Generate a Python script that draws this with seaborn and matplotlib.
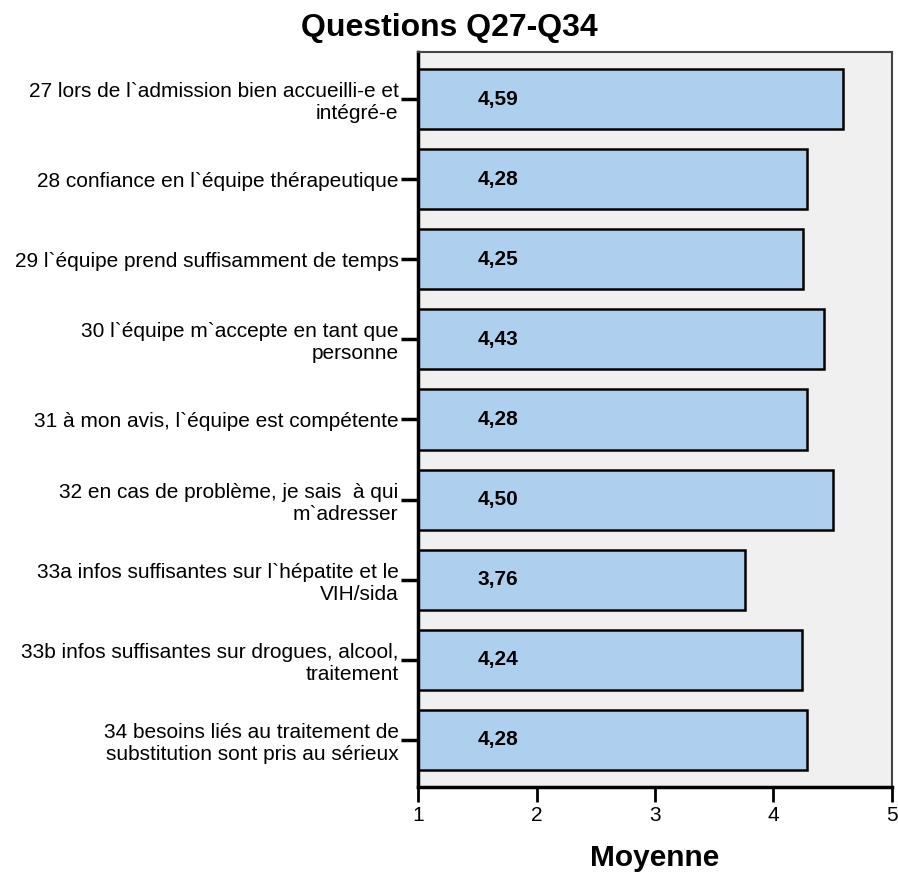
import pandas as pd
import numpy as np
import seaborn as sns
import matplotlib.pyplot as plt

questions = [
    "27 lors de l`admission bien accueilli-e et\nintégré-e",
    "28 confiance en l`équipe thérapeutique",
    "29 l`équipe prend suffisamment de temps",
    "30 l`équipe m`accepte en tant que\npersonne",
    "31 à mon avis, l`équipe est compétente",
    "32 en cas de problème, je sais  à qui\nm`adresser",
    "33a infos suffisantes sur l`hépatite et le\nVIH/sida",
    "33b infos suffisantes sur drogues, alcool,\ntraitement",
    "34 besoins liés au traitement de\nsubstitution sont pris au sérieux",
]
moyennes = [4.59, 4.28, 4.25, 4.43, 4.28, 4.50, 3.76, 4.24, 4.28]
x_ticks = [1, 2, 3, 4, 5]

df = pd.DataFrame({'Question': questions, 'Moyenne': moyennes})

sns.set_style('white')
plt.rcParams['font.family'] = ['Liberation Sans', 'DejaVu Sans']
plt.rcParams['text.color'] = 'black'
plt.rcParams['axes.labelcolor'] = 'black'
plt.rcParams['xtick.color'] = 'black'
plt.rcParams['ytick.color'] = 'black'

fig = plt.figure(figsize=(8.98, 8.72), dpi=100)
ax = fig.add_axes([418 / 898, 1 - 787 / 872, 474 / 898, 735 / 872])
ax.set_facecolor('#f0f0f0')

sns.barplot(data=df, x='Moyenne', y='Question', orient='h', color='#aecfee',
            saturation=1, width=0.75, edgecolor='black', linewidth=1.8, ax=ax)

# valeurs dans les barres
for i, v in enumerate(moyennes):
    ax.text(1.5, i, f"{v:.2f}".replace('.', ','), ha='left', va='center',
            fontsize=15, fontweight='bold', color='black')

ax.set_xlim(1, 5)
ax.set_ylim(8.59, -0.59)
ax.set_xticks(x_ticks)
ax.set_xticklabels([str(t) for t in x_ticks], fontsize=15)
ax.tick_params(axis='x', direction='out', length=11, width=2, color='black', pad=3, bottom=True)
ax.tick_params(axis='y', direction='out', length=12, width=2.5, color='black', pad=2,
               labelsize=15, left=True)
for lab in ax.get_yticklabels():
    lab.set_horizontalalignment('right')

ax.set_ylabel('')
ax.set_xlabel('Moyenne', fontsize=21.5, fontweight='bold', labelpad=13)

for side in ['left', 'bottom']:
    ax.spines[side].set_color('black')
    ax.spines[side].set_linewidth(2.5)
for side in ['top', 'right']:
    ax.spines[side].set_visible(True)
    ax.spines[side].set_color('#444444')
    ax.spines[side].set_linewidth(1.5)

fig.suptitle('Questions Q27-Q34', fontsize=23, fontweight='bold', x=0.5, y=0.985, va='top')

plt.savefig('out.png', dpi=100)
